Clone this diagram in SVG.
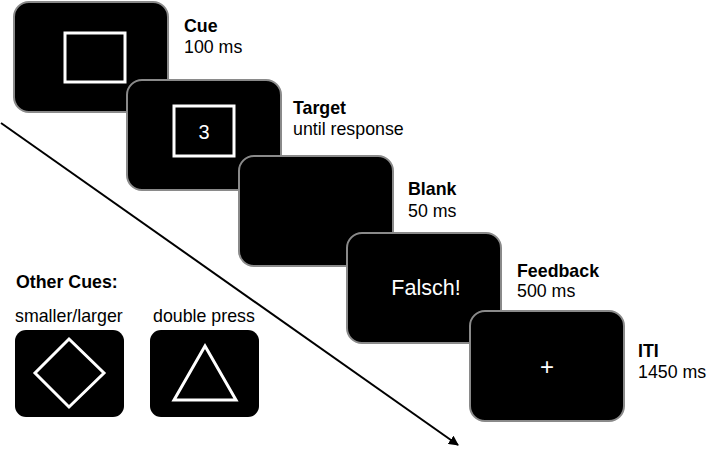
<svg xmlns="http://www.w3.org/2000/svg" width="709" height="449" viewBox="0 0 709 449">
  <defs>
    <style>
      .screen { fill: #000; stroke: #8a8a8a; stroke-width: 2; }
      .mini { fill: #000; }
      .shape { fill: none; stroke: #fff; stroke-width: 3; }
      .lbl { font-family: "Liberation Sans", Arial, sans-serif; font-size: 17.8px; fill: #000; }
      .b { font-weight: bold; }
      .wt { font-family: "Liberation Sans", Arial, sans-serif; fill: #fff; text-anchor: middle; }
      .arrow { stroke: #000; stroke-width: 2; fill: none; }
    </style>
    <marker id="ah" viewBox="0 0 10 10" refX="9" refY="5" markerWidth="5" markerHeight="5" orient="auto" markerUnits="strokeWidth">
      <path d="M0,0 L10,5 L0,10 z" fill="#000"/>
    </marker>
  </defs>
  <rect width="709" height="449" fill="#fff"/>

  <g id="connectors">
    <line class="arrow" x1="1" y1="123" x2="458" y2="445" marker-end="url(#ah)"/>
  </g>

  <g id="cue">
    <rect class="screen" x="14" y="2" width="154" height="110" rx="15"/>
    <rect class="shape" x="65" y="33" width="60" height="49"/>
    <text class="lbl b" x="184" y="32">Cue</text>
    <text class="lbl" x="184" y="53">100 ms</text>
  </g>

  <g id="target">
    <rect class="screen" x="127" y="80" width="154" height="110" rx="15"/>
    <rect class="shape" x="174" y="106" width="60" height="50"/>
    <text class="wt" x="204" y="139" font-size="20">3</text>
    <text class="lbl b" x="293" y="114">Target</text>
    <text class="lbl" x="293" y="135">until response</text>
  </g>

  <g id="blank">
    <rect class="screen" x="239" y="156" width="154" height="110" rx="15"/>
    <text class="lbl b" x="408" y="195">Blank</text>
    <text class="lbl" x="408" y="217">50 ms</text>
  </g>

  <g id="feedback">
    <rect class="screen" x="347" y="233" width="154" height="110" rx="15"/>
    <text class="wt" x="426" y="295" font-size="21.5">Falsch!</text>
    <text class="lbl b" x="517" y="277">Feedback</text>
    <text class="lbl" x="517" y="297">500 ms</text>
  </g>

  <g id="iti">
    <rect class="screen" x="470" y="311" width="154" height="110" rx="15"/>
    <text class="wt" x="547" y="375" font-size="24">+</text>
    <text class="lbl b" x="638" y="357">ITI</text>
    <text class="lbl" x="638" y="378">1450 ms</text>
  </g>

  <g id="other-cues">
    <text class="lbl b" x="16" y="288">Other Cues:</text>
  </g>

  <g id="smaller-larger">
    <text class="lbl" x="15" y="322">smaller/larger</text>
    <rect class="mini" x="15" y="330" width="109" height="87" rx="11"/>
    <polygon class="shape" points="69,339 104,373 69,407 35,373"/>
  </g>

  <g id="double-press">
    <text class="lbl" x="153" y="322">double press</text>
    <rect class="mini" x="150" y="330" width="109" height="87" rx="11"/>
    <polygon class="shape" points="205,346 236,400 174,400"/>
  </g>
</svg>
